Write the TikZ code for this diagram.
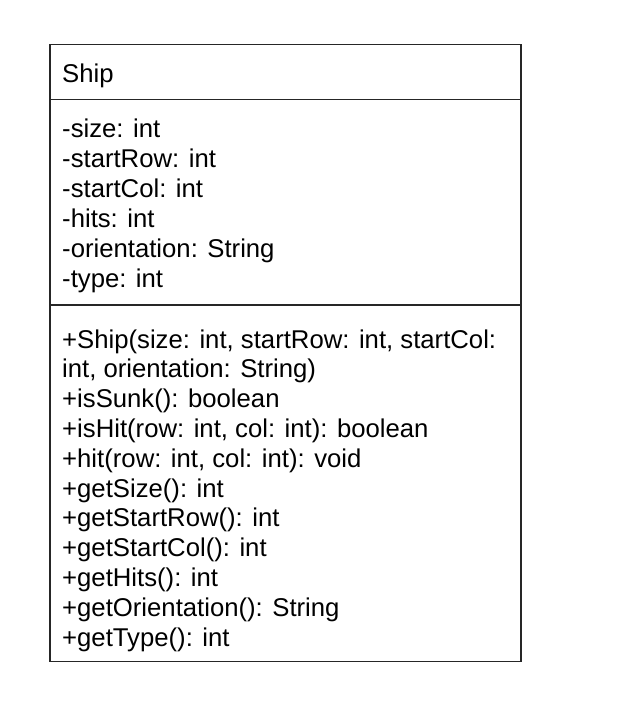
\documentclass[tikz,border=0pt]{standalone}
\usepackage{fontspec}
\setmainfont{Liberation Sans}

\begin{document}
\begin{tikzpicture}[x=1pt,y=-1pt,
    every node/.style={font=\fontsize{25.7}{30}\selectfont, inner sep=0pt, anchor=base west},
    umlline/.style={line width=1.8pt, black!85}]
  \def \minx {50}
  \def \maxx {521}
  \def \miny {44.5}
  \def \maxy {661.5}
  \def \divone {99.5}
  \def \divtwo {305}
  \def \textx {62}

  \useasboundingbox (0,0) rectangle (616,720);

  \draw[umlline] (\minx,\miny) rectangle (\maxx,\maxy);
  \coordinate (d1w) at (\minx,\divone);
  \coordinate (d1e) at (\maxx,\divone);
  \coordinate (d2w) at (\minx,\divtwo);
  \coordinate (d2e) at (\maxx,\divtwo);
  \draw[umlline] (d1w)--(d1e);
  \draw[umlline] (d2w)--(d2e);

  \node (classname) at (\textx,82) {Ship};

  \foreach \txt [count=\i] in {-size: int, -startRow: int, -startCol: int,
      -hits: int, -orientation: String, -type: int}{
    \node (attr\i) at (\textx,137+30*\i-30) {\txt};
  }

  \foreach \txt [count=\i] in {{+Ship(size: int, startRow: int, startCol:},
      {int, orientation: String)}, +isSunk(): boolean,
      {+isHit(row: int, col: int): boolean}, {+hit(row: int, col: int): void},
      +getSize(): int, +getStartRow(): int, +getStartCol(): int,
      +getHits(): int, +getOrientation(): String, +getType(): int}{
    \node (op\i) at (\textx,348+29.8*\i-29.8) {\txt};
  }
\end{tikzpicture}
\end{document}
